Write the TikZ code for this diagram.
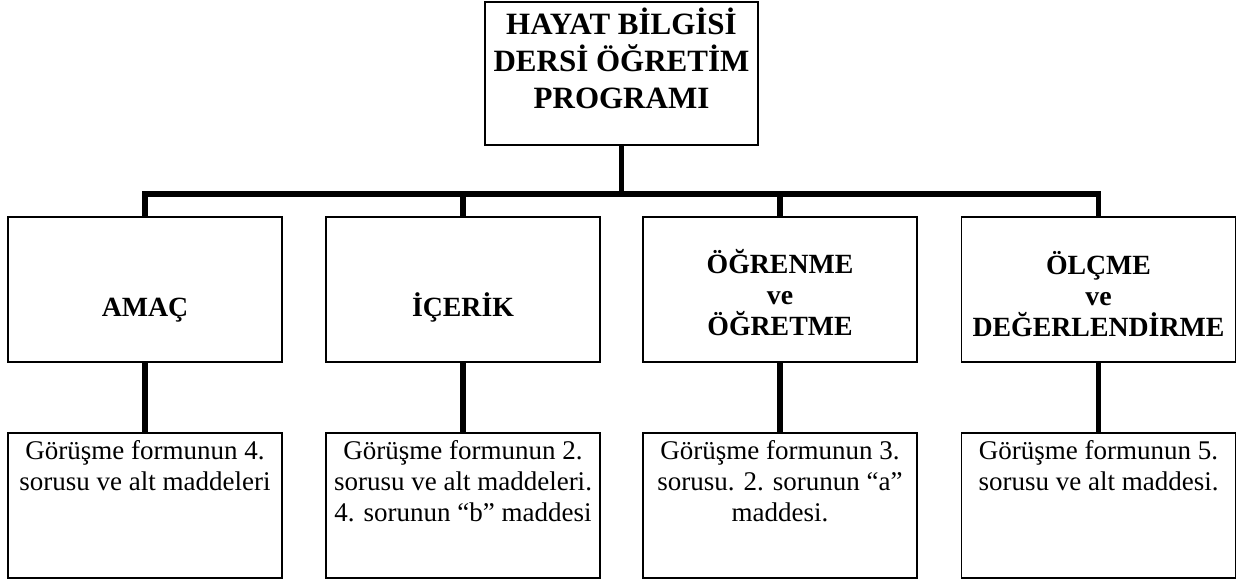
\documentclass[tikz,border=0pt]{standalone}
\usepackage{fontspec}
\setmainfont{Liberation Serif}
\usetikzlibrary{positioning}

\begin{document}
\begin{tikzpicture}[x=0.5pt,y=-0.5pt,
  box/.style={draw=black, line width=0.8pt, minimum width=137pt, minimum height=72.5pt, inner sep=0pt},
  headtext/.style={font=\bfseries\fontsize{13.9}{15.4}\selectfont, align=center, inner sep=0pt},
  notetext/.style={font=\fontsize{13.5}{15.5}\selectfont, align=center, anchor=north, inner sep=0pt},
  stem/.style={line width=2.8pt}]
\useasboundingbox (0,0) rectangle (1246,582);

% top box
\node[box, minimum width=136.5pt, minimum height=71.5pt] (prog) at (621.5,73.5) {};
\node[font=\bfseries\fontsize{15.5}{18.5}\selectfont, align=center, anchor=north, inner sep=0pt]
  (progtext) at ([yshift=-3pt]prog.north) {HAYAT BİLGİSİ\\DERSİ ÖĞRETİM\\PROGRAMI};

% middle row
\node[box] (amac) at (145,289.5) {};
\node[box] (icerik) at (463,289.5) {};
\node[box] (ogrenme) at (780,289.5) {};
\node[box] (olcme) at (1098.5,289.5) {};

\node[headtext, anchor=base] (amactext) at ([yshift=-13.75pt]amac.center) {AMAÇ};
\node[headtext, anchor=base] (iceriktext) at ([yshift=-13.75pt]icerik.center) {İÇERİK};
\node[headtext, anchor=north] (ogrenmetext) at ([yshift=-16.5pt]ogrenme.north) {ÖĞRENME\\ve\\ÖĞRETME};
\node[headtext, anchor=north] (olcmetext) at ([yshift=-17.5pt]olcme.north) {ÖLÇME\\ve\\DEĞERLENDİRME};

% bottom row
\node[box] (gor4) at (145,505.5) {};
\node[box] (gor2) at (463,505.5) {};
\node[box] (gor3) at (780,505.5) {};
\node[box] (gor5) at (1098.5,505.5) {};

\node[notetext] (gor4text) at ([yshift=-4pt]gor4.north) {Görüşme formunun 4.\\sorusu ve alt maddeleri};
\node[notetext] (gor2text) at ([yshift=-4pt]gor2.north) {Görüşme formunun 2.\\sorusu ve alt maddeleri.\\4. sorunun “b” maddesi};
\node[notetext] (gor3text) at ([yshift=-4pt]gor3.north) {Görüşme formunun 3.\\sorusu. 2. sorunun “a”\\maddesi.};
\node[notetext] (gor5text) at ([yshift=-4pt]gor5.north) {Görüşme formunun 5.\\sorusu ve alt maddesi.};

% connectors
\coordinate (hub) at (prog.south |- 0,194);
\draw[stem] (prog.south) -- (hub);
\draw[stem] (amac.north) |- (hub) -| (olcme.north);
\draw[stem] (icerik.north) -- (icerik.north |- hub);
\draw[stem] (ogrenme.north) -- (ogrenme.north |- hub);

\draw[stem] (amac.south) -- (gor4.north);
\draw[stem] (icerik.south) -- (gor2.north);
\draw[stem] (ogrenme.south) -- (gor3.north);
\draw[stem] (olcme.south) -- (gor5.north);
\end{tikzpicture}
\end{document}
